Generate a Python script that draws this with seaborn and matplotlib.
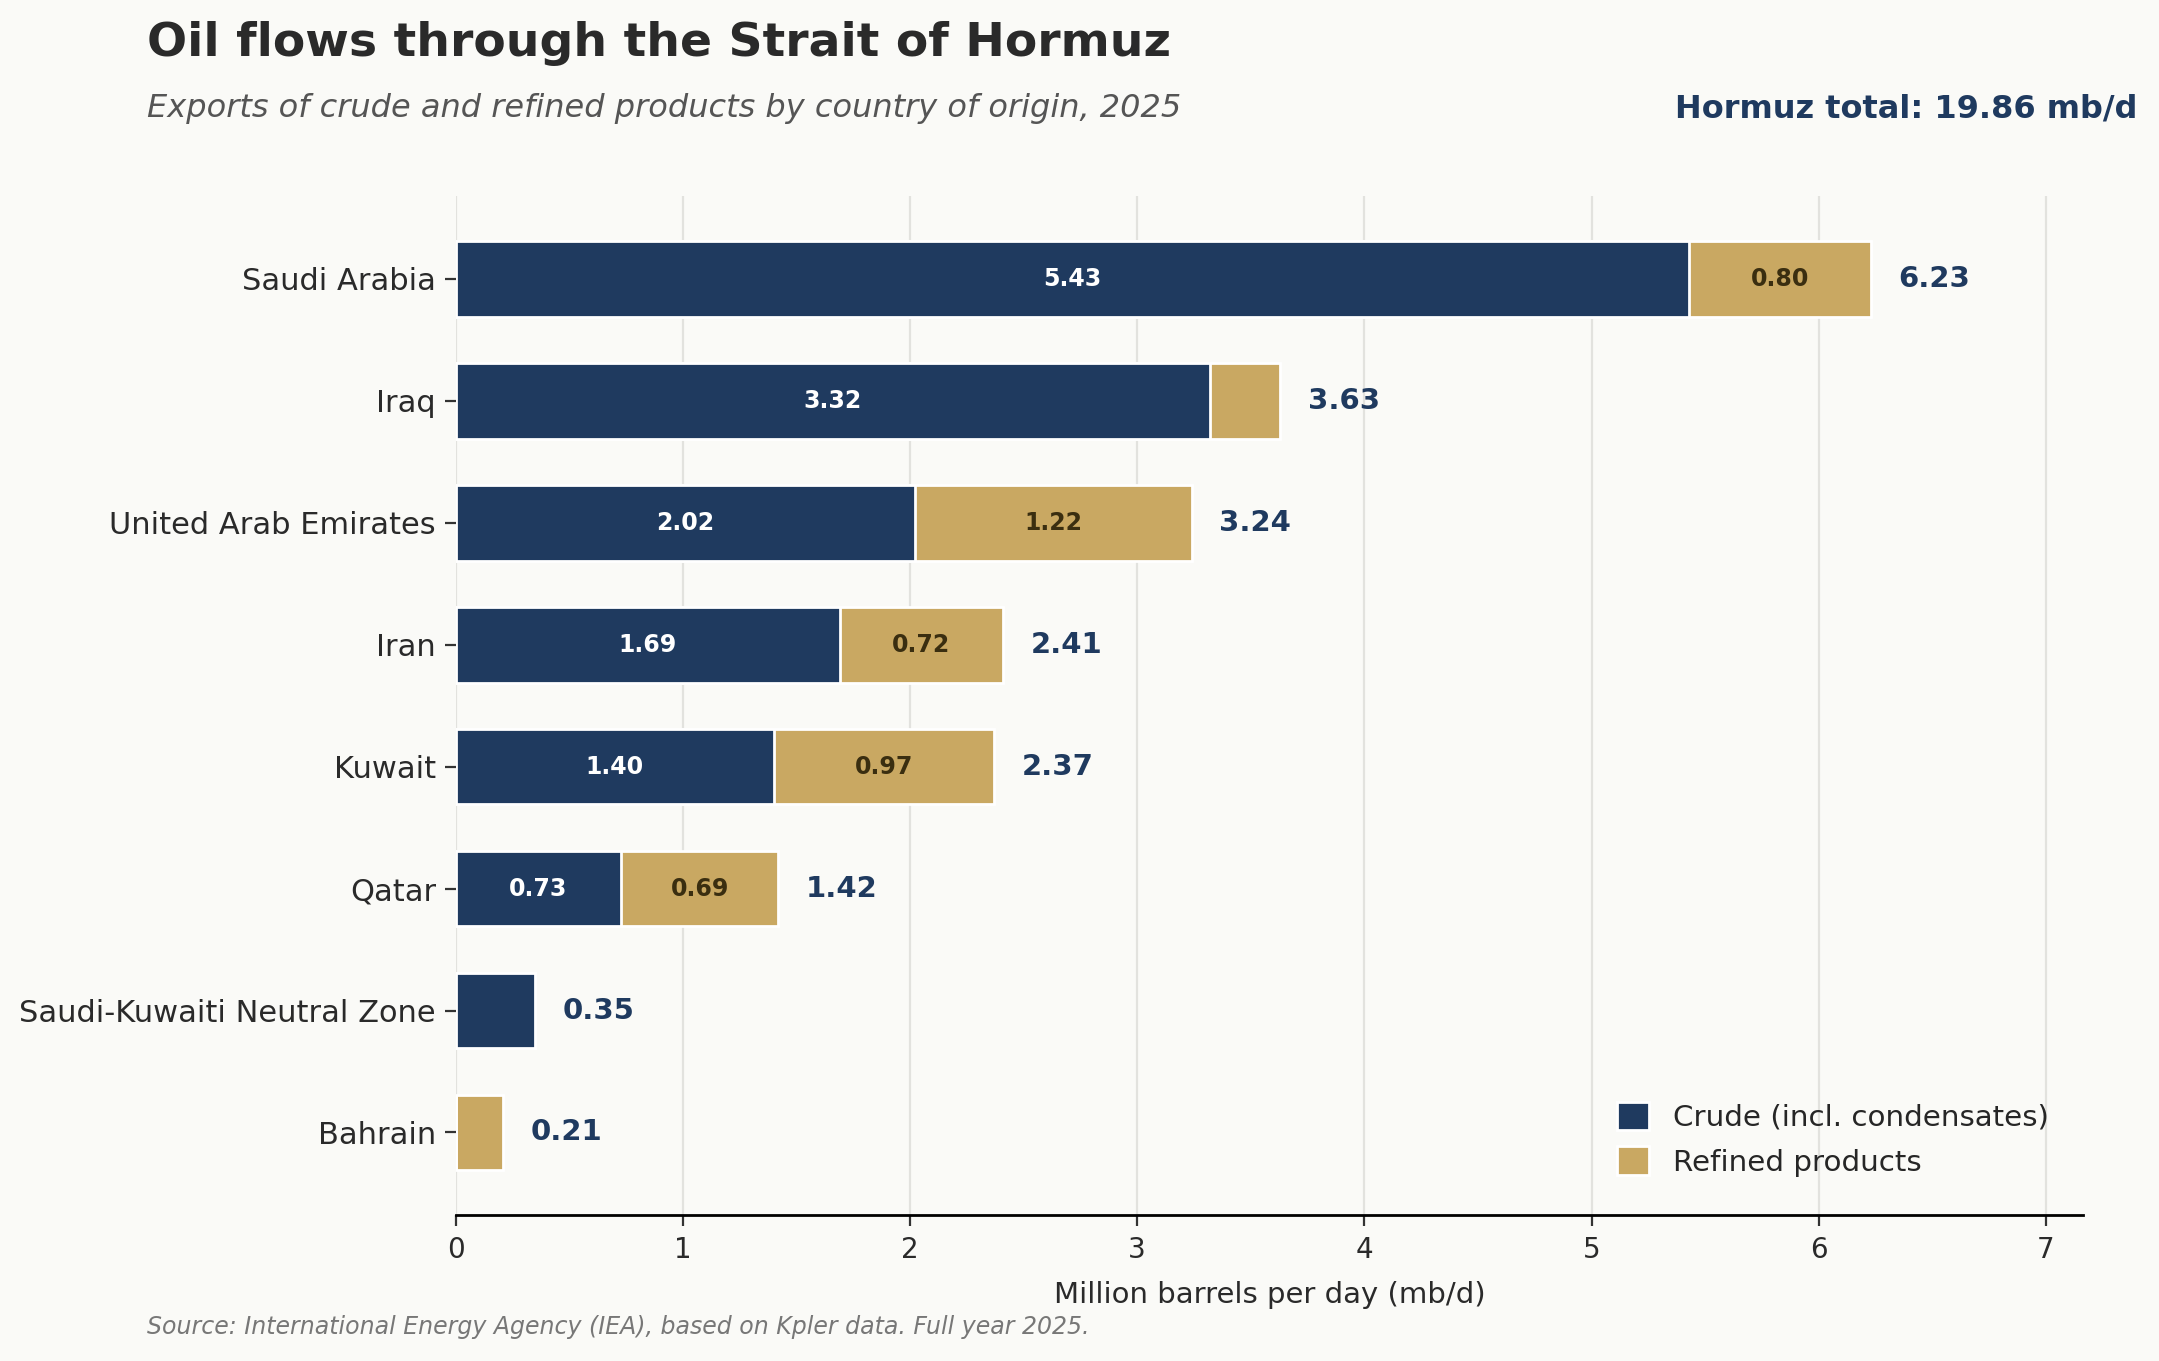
import matplotlib
matplotlib.use("Agg")
import matplotlib.pyplot as plt
import seaborn as sns
import pandas as pd
from matplotlib.patches import Patch

# Hormuz export volumes, mb/d (2025)
countries = ["Saudi Arabia", "Iraq", "United Arab Emirates", "Iran", "Kuwait",
             "Qatar", "Saudi-Kuwaiti Neutral Zone", "Bahrain"]
crude = [5.43, 3.32, 2.02, 1.69, 1.40, 0.73, 0.35, 0.00]
refined = [0.80, 0.31, 1.22, 0.72, 0.97, 0.69, 0.00, 0.21]

navy = "#1F3A5F"
gold = "#C9A862"
bg = "#FAFAF7"

df = pd.DataFrame({"country": countries, "crude": crude, "refined": refined})
df["total"] = df["crude"] + df["refined"]
hormuz_total = df["total"].sum()

sns.set_theme(style="white")
plt.rcParams["font.family"] = ["DejaVu Sans"]

fig = plt.figure(figsize=(2159 / 200, 1361 / 200), dpi=200, facecolor=bg)
ax = fig.add_axes([0.211, 0.107, 0.754, 0.749])
ax.set_facecolor(bg)

# total bar in gold, crude drawn over it -> stacked look
sns.barplot(data=df, x="total", y="country", color=gold, width=0.62,
            edgecolor="white", linewidth=1, ax=ax, zorder=3, saturation=1)
sns.barplot(data=df, x="crude", y="country", color=navy, width=0.62,
            edgecolor="white", linewidth=1, ax=ax, zorder=4, saturation=1)

for i, row in df.iterrows():
    if row["crude"] >= 0.5:
        ax.text(row["crude"] / 2, i, f"{row['crude']:.2f}", ha="center", va="center",
                color="white", fontsize=8.5, fontweight="bold", zorder=5)
    if row["refined"] >= 0.5:
        ax.text(row["crude"] + row["refined"] / 2, i, f"{row['refined']:.2f}",
                ha="center", va="center", color="#3A2E10", fontsize=8.5,
                fontweight="bold", zorder=5)
    ax.text(row["total"] + 0.12, i, f"{row['total']:.2f}", ha="left", va="center",
            color=navy, fontsize=10.5, fontweight="bold", zorder=5)

ax.set_xlim(0, df["total"].max() * 1.15)
ax.set_ylim(7.68, -0.68)
ax.set_xticks(range(0, 8))
ax.grid(axis="x", color="#E2E2DE", linewidth=0.8, zorder=0)
ax.set_axisbelow(True)
for s in ["left", "top", "right"]:
    ax.spines[s].set_visible(False)
ax.spines["bottom"].set_color("black")
ax.spines["bottom"].set_linewidth(1)
ax.tick_params(axis="y", left=True, length=4, width=0.8, color="#333333",
               labelsize=11, labelcolor="#2A2A2A", pad=3)
ax.tick_params(axis="x", bottom=True, length=4, width=0.8, color="#333333",
               labelsize=10, labelcolor="#2A2A2A")
ax.set_ylabel("")
ax.set_xlabel("Million barrels per day (mb/d)", fontsize=10.5, color="#2A2A2A", labelpad=6)

handles = [Patch(facecolor=navy, edgecolor="white", label="Crude (incl. condensates)"),
           Patch(facecolor=gold, edgecolor="white", label="Refined products")]
ax.legend(handles=handles, loc="lower right", frameon=False, fontsize=10.6,
          handlelength=1.1, handleheight=1.1, bbox_to_anchor=(0.995, 0.012))

fig.text(0.068, 0.968, "Oil flows through the Strait of Hormuz", fontsize=17,
         fontweight="bold", color="#2A2A2A", ha="left", va="center")
fig.text(0.068, 0.920, "Exports of crude and refined products by country of origin, 2025",
         fontsize=11.5, style="italic", color="#555555", ha="left", va="center")
fig.text(0.990, 0.920, f"Hormuz total: {hormuz_total:.2f} mb/d", fontsize=11.5,
         fontweight="bold", color=navy, ha="right", va="center")
fig.text(0.068, 0.025, "Source: International Energy Agency (IEA), based on Kpler data. Full year 2025.",
         fontsize=8.5, style="italic", color="#777777", ha="left", va="center")

fig.savefig("out.png", dpi=200, facecolor=bg)
